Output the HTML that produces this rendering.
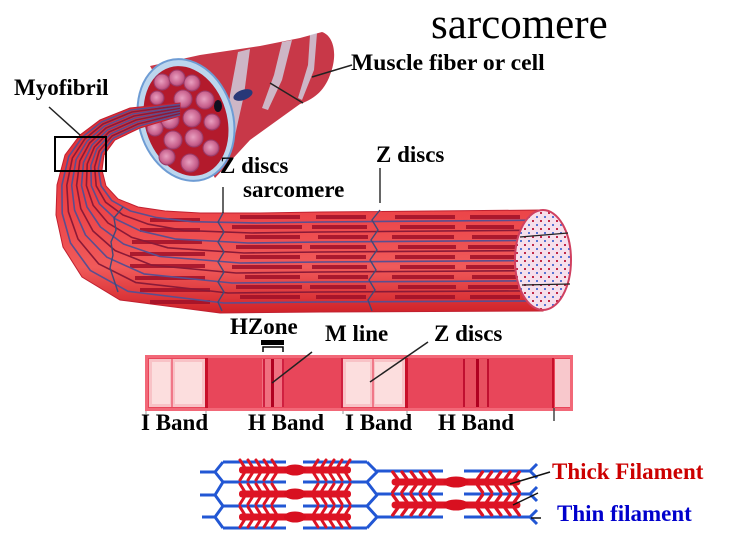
<!DOCTYPE html>
<html><head><meta charset="utf-8"><style>
html,body{margin:0;padding:0;background:#fff;}
svg{display:block;}
text{font-family:"Liberation Serif",serif;}
.lb{font-weight:bold;font-size:23px;fill:#000;}
</style></head><body>
<svg width="742" height="557" viewBox="0 0 742 557" xmlns="http://www.w3.org/2000/svg">
<defs>
<linearGradient id="tubeG" gradientUnits="userSpaceOnUse" x1="0" y1="105" x2="0" y2="313">
<stop offset="0" stop-color="#de2a30"/>
<stop offset="0.5" stop-color="#ec4448"/>
<stop offset="0.78" stop-color="#f05a5a"/>
<stop offset="1" stop-color="#d02228"/>
</linearGradient>
<radialGradient id="fibG" cx="0.45" cy="0.45" r="0.6">
<stop offset="0" stop-color="#e8a0c0"/>
<stop offset="0.7" stop-color="#c8608c"/>
<stop offset="1" stop-color="#a04070"/>
</radialGradient>
<pattern id="dots" width="8" height="8" patternUnits="userSpaceOnUse">
<rect width="8" height="8" fill="#f6e0ec"/>
<rect x="0" y="0" width="2" height="2" fill="#5874d4"/>
<rect x="4" y="4" width="2" height="2" fill="#c02848"/>
</pattern>
<g id="thick">
<rect x="-56" y="-3.5" width="112" height="7" rx="3" fill="#dd1424"/>
<ellipse cx="0" cy="0" rx="11" ry="5.5" fill="#d81020"/>
<path d="M-50,-2 l-5,-8 M-50,2 l-5,8 M-42,-2 l-5,-8 M-42,2 l-5,8 M-34,-2 l-5,-8 M-34,2 l-5,8 M-26,-2 l-5,-8 M-26,2 l-5,8 M-18,-2 l-5,-8 M-18,2 l-5,8 M50,-2 l5,-8 M50,2 l5,8 M42,-2 l5,-8 M42,2 l5,8 M34,-2 l5,-8 M34,2 l5,8 M26,-2 l5,-8 M26,2 l5,8 M18,-2 l5,-8 M18,2 l5,8" stroke="#dd1424" stroke-width="3" stroke-linecap="round" fill="none"/>
</g>
</defs>

<!-- ============ muscle fiber bundle (cone) ============ -->
<path d="M150,66 L200,55 L260,46 L300,38 L322,32 C334,36 338,55 330,75 C324,92 312,100 300,104 L250,140 L215,178 Z" fill="#c83848"/>
<g fill="#cfe0f0" opacity="0.75">
<polygon points="238,52 250,49 244,95 234,140 224,148 230,95"/>
<polygon points="282,42 292,40 282,80 268,110 262,108 274,75"/>
<polygon points="310,35 317,33 314,70 302,100 298,98 308,65"/>
</g>
<ellipse cx="243" cy="95" rx="10" ry="5" fill="#283878" transform="rotate(-20 243 95)"/>
<!-- cross-section -->
<ellipse cx="186" cy="120" rx="47" ry="62" transform="rotate(-17 186 120)" fill="#bcd6ee" stroke="#6e9cd4" stroke-width="2"/>
<ellipse cx="186" cy="121" rx="41" ry="56" transform="rotate(-17 186 121)" fill="#b31a2c"/>
<g fill="url(#fibG)" stroke="#9a3a68" stroke-width="1">
<circle cx="162" cy="82" r="8"/>
<circle cx="177" cy="78" r="8"/>
<circle cx="192" cy="83" r="8"/>
<circle cx="183" cy="99" r="9"/>
<circle cx="205" cy="100" r="9"/>
<circle cx="157" cy="98" r="7"/>
<circle cx="170" cy="120" r="9"/>
<circle cx="192" cy="118" r="9"/>
<circle cx="212" cy="122" r="8"/>
<circle cx="155" cy="128" r="8"/>
<circle cx="173" cy="140" r="9"/>
<circle cx="194" cy="138" r="9"/>
<circle cx="211" cy="148" r="8"/>
<circle cx="167" cy="157" r="8"/>
<circle cx="190" cy="163" r="9"/>
</g>
<ellipse cx="218" cy="106" rx="4" ry="6" fill="#101020"/>

<!-- ============ myofibril tube ============ -->
<path d="M180,103 L130,108 L100,120 L80,135 L65,155 L57,185 L56,215 L63,247 L82,277 L120,300 L220,313 L320,312 L543,311 L543,210 L320,212 L260,213 L200,213 L165,211 L138,207 L118,199 L106,186 L102,170 L104,155 L115,140 L140,128 L180,116 Z" fill="url(#tubeG)" stroke="#c02030" stroke-width="1"/>
<!-- dark red dashes in rows -->
<g fill="#a01028" opacity="0.85">
<rect x="240" y="215" width="60" height="4"/><rect x="316" y="215" width="50" height="4"/><rect x="395" y="215" width="60" height="4"/><rect x="470" y="215" width="50" height="4"/>
<rect x="232" y="225" width="70" height="4"/><rect x="312" y="225" width="55" height="4"/><rect x="400" y="225" width="55" height="4"/><rect x="466" y="225" width="48" height="4"/>
<rect x="245" y="235" width="55" height="4"/><rect x="318" y="235" width="50" height="4"/><rect x="392" y="235" width="62" height="4"/><rect x="472" y="235" width="46" height="4"/>
<rect x="236" y="245" width="66" height="4"/><rect x="310" y="245" width="56" height="4"/><rect x="398" y="245" width="58" height="4"/><rect x="468" y="245" width="50" height="4"/>
<rect x="240" y="255" width="60" height="4"/><rect x="316" y="255" width="50" height="4"/><rect x="395" y="255" width="60" height="4"/><rect x="470" y="255" width="50" height="4"/>
<rect x="232" y="265" width="70" height="4"/><rect x="312" y="265" width="55" height="4"/><rect x="400" y="265" width="55" height="4"/><rect x="466" y="265" width="48" height="4"/>
<rect x="245" y="275" width="55" height="4"/><rect x="318" y="275" width="50" height="4"/><rect x="392" y="275" width="62" height="4"/><rect x="472" y="275" width="46" height="4"/>
<rect x="236" y="285" width="66" height="4"/><rect x="310" y="285" width="56" height="4"/><rect x="398" y="285" width="58" height="4"/><rect x="468" y="285" width="50" height="4"/>
<rect x="240" y="295" width="60" height="4"/><rect x="316" y="295" width="50" height="4"/><rect x="395" y="295" width="60" height="4"/><rect x="470" y="295" width="50" height="4"/>
<rect x="150" y="300" width="60" height="4"/><rect x="140" y="288" width="70" height="4"/><rect x="135" y="276" width="70" height="4"/><rect x="130" y="264" width="75" height="4"/>
<rect x="130" y="252" width="75" height="4"/><rect x="132" y="240" width="70" height="4"/><rect x="140" y="228" width="60" height="4"/><rect x="150" y="218" width="50" height="4"/>
</g>
<!-- fibril stripes -->
<g fill="none" stroke-width="1.6" stroke-linejoin="round">
<polyline stroke="#5a4e90" points="180,114.7 139,126 113.5,138 101.6,153 98.3,168.5 101.1,185.9 111.8,200.6 130.5,211 156.7,217.6 192,221.7 256,223 320,222 543,220.1"/>
<polyline stroke="#8a1a38" points="180,113.4 138,124 112,136 99.2,151 94.6,167 96.2,185.8 105.6,202.2 123,215 148.4,224.2 184,230.4 252,233 320,232 543,230.2"/>
<polyline stroke="#5a4e90" points="180,112.1 137,122 110.5,134 96.8,149 90.9,165.5 91.3,185.7 99.4,203.8 115.5,219 140.1,230.8 176,239.1 248,243 320,242 543,240.3"/>
<polyline stroke="#8a1a38" points="180,110.8 136,120 109,132 94.4,147 87.2,164 86.4,185.6 93.2,205.4 108,223 131.8,237.4 168,247.8 244,253 320,252 543,250.4"/>
<polyline stroke="#5a4e90" points="180,109.5 135,118 107.5,130 92,145 83.5,162.5 81.5,185.5 87,207 100.5,227 123.5,244 160,256.5 240,263 320,262 543,260.5"/>
<polyline stroke="#8a1a38" points="180,108.2 134,116 106,128 89.6,143 79.8,161 76.6,185.4 80.8,208.6 93,231 115.2,250.6 152,265.2 236,273 320,272 543,270.6"/>
<polyline stroke="#5a4e90" points="180,106.9 133,114 104.5,126 87.2,141 76.1,159.5 71.7,185.3 74.6,210.2 85.5,235 106.9,257.2 144,273.9 232,283 320,282 543,280.7"/>
<polyline stroke="#8a1a38" points="180,105.6 132,112 103,124 84.8,139 72.4,158 66.8,185.2 68.4,211.8 78,239 98.6,263.8 136,282.6 228,293 320,292 543,290.8"/>
<polyline stroke="#5a4e90" points="180,104.3 131,110 101.5,122 82.4,137 68.7,156.5 61.9,185.1 62.2,213.4 70.5,243 90.3,270.4 128,291.3 224,303 320,302 543,300.9"/>
</g>
<!-- Z disc zigzags -->
<g fill="none" stroke="#3e4a7a" stroke-width="1.4">
<polyline points="223,213 218,222 224,232 218,242 224,252 218,262 224,272 218,282 224,292 218,302 222,311"/>
<polyline points="380,210 372,220 378,230 371,240 377,250 370,260 376,270 369,280 375,290 368,300 372,311"/>
<polyline points="123,207 114,218 116,230 111,242 113,255 110,268 114,280 118,292"/>
</g>
<!-- end cap -->
<ellipse cx="543" cy="260" rx="28" ry="50" fill="url(#dots)" stroke="#d04060" stroke-width="2"/>
<g stroke="#222" stroke-width="1.2">
<line x1="520" y1="237" x2="568" y2="233"/>
<line x1="522" y1="285" x2="570" y2="284"/>
</g>

<!-- pointers top -->
<g stroke="#222" stroke-width="1.5">
<line x1="49" y1="107" x2="80" y2="135"/>
<line x1="352" y1="65" x2="312" y2="77"/>
<line x1="270" y1="83" x2="303" y2="103"/>
</g>
<rect x="55" y="137" width="51" height="34" fill="none" stroke="#000" stroke-width="2"/>
<g stroke="#000" stroke-width="1.2">
<line x1="223" y1="187" x2="223" y2="213"/>
<line x1="380" y1="168" x2="380" y2="203"/>
</g>

<!-- ============ sarcomere band ============ -->
<rect x="145" y="355" width="428" height="56" fill="#f26878"/>
<rect x="148" y="358" width="422" height="50" fill="#e8465a"/>
<rect x="149" y="359" width="56" height="48" fill="#f8c2c6"/>
<rect x="152" y="362" width="18" height="42" fill="#fcdede"/>
<rect x="175" y="362" width="27" height="42" fill="#fcdede"/>
<rect x="171" y="359" width="2" height="48" fill="#f07888"/>
<rect x="205" y="358" width="3" height="50" fill="#c8102a"/>
<rect x="262" y="359" width="22" height="48" fill="#f07080"/>
<rect x="263" y="359" width="2" height="48" fill="#d02040"/>
<rect x="271" y="359" width="3" height="48" fill="#b00020"/>
<rect x="282" y="359" width="2" height="48" fill="#d02040"/>
<rect x="341" y="358" width="2" height="50" fill="#d02040"/>
<rect x="343" y="359" width="62" height="48" fill="#f8c2c6"/>
<rect x="346" y="362" width="24" height="42" fill="#fcdede"/>
<rect x="375" y="362" width="27" height="42" fill="#fcdede"/>
<rect x="372" y="359" width="2" height="48" fill="#f07888"/>
<rect x="405" y="358" width="3" height="50" fill="#c8102a"/>
<rect x="463" y="359" width="26" height="48" fill="#e85060"/>
<rect x="463" y="359" width="2" height="48" fill="#c01030"/>
<rect x="476" y="359" width="3" height="48" fill="#b00020"/>
<rect x="487" y="359" width="2" height="48" fill="#c01030"/>
<rect x="552" y="358" width="2" height="50" fill="#c8102a"/>
<rect x="555" y="359" width="15" height="48" fill="#f8c8cc"/>
<g stroke="#999" stroke-width="1">
<line x1="146" y1="411" x2="146" y2="414"/>
<line x1="206" y1="411" x2="206" y2="414"/>
<line x1="343" y1="411" x2="343" y2="414"/>
<line x1="407" y1="411" x2="407" y2="414"/>
</g>
<line x1="554" y1="408" x2="554" y2="421" stroke="#444" stroke-width="1.5"/>
<!-- HZone bracket -->
<rect x="261" y="340" width="23" height="5" fill="#000"/>
<path d="M263,352 L263,347 L283,347 L283,352" fill="none" stroke="#000" stroke-width="1.5"/>
<g stroke="#222" stroke-width="1.5">
<line x1="312" y1="352" x2="272" y2="383"/>
<line x1="428" y1="342" x2="370" y2="382"/>
</g>

<!-- ============ filaments ============ -->
<g stroke="#2257d4" stroke-width="3" fill="none" stroke-linejoin="round">
<line x1="223" y1="462" x2="286" y2="462"/><line x1="303" y1="462" x2="367" y2="462"/>
<line x1="223" y1="482" x2="286" y2="482"/><line x1="303" y1="482" x2="367" y2="482"/>
<line x1="223" y1="506" x2="286" y2="506"/><line x1="303" y1="506" x2="367" y2="506"/>
<line x1="223" y1="528" x2="286" y2="528"/><line x1="303" y1="528" x2="367" y2="528"/>
<polyline points="223,462 215,472 223,482 215,495 223,506 215,517 223,528"/>
<line x1="200" y1="472" x2="215" y2="472"/><line x1="200" y1="495" x2="215" y2="495"/><line x1="202" y1="517" x2="215" y2="517"/>
<polyline points="367,462 377,472 367,482 377,495 367,506 377,517 367,528"/>
<line x1="377" y1="471" x2="443" y2="471"/><line x1="464" y1="471" x2="530" y2="471"/>
<line x1="377" y1="494" x2="443" y2="494"/><line x1="464" y1="494" x2="530" y2="494"/>
<line x1="377" y1="517" x2="443" y2="517"/><line x1="464" y1="517" x2="530" y2="517"/>
<path d="M530,471 L537,464 M530,471 L537,478 M530,494 L537,487 M530,494 L537,501 M530,517 L537,510 M530,517 L537,524"/>
</g>
<use href="#thick" transform="translate(295,470)"/>
<use href="#thick" transform="translate(295,494)"/>
<use href="#thick" transform="translate(295,517)"/>
<use href="#thick" transform="translate(456,482) scale(1.15,1)"/>
<use href="#thick" transform="translate(456,505) scale(1.15,1)"/>
<g stroke="#111" stroke-width="1.5">
<line x1="550" y1="472" x2="510" y2="484"/>
<line x1="538" y1="493" x2="513" y2="505"/>
<line x1="541" y1="518" x2="531" y2="518"/>
</g>

<!-- ============ labels ============ -->
<text x="431" y="38" font-size="43" fill="#000">sarcomere</text>
<text class="lb" x="351" y="70" style="font-size:23.6px">Muscle fiber or cell</text>
<text class="lb" x="14" y="95">Myofibril</text>
<text class="lb" x="220" y="173">Z discs</text>
<text class="lb" x="243" y="197">sarcomere</text>
<text class="lb" x="376" y="162">Z discs</text>
<text class="lb" x="230" y="334">HZone</text>
<text class="lb" x="325" y="341">M line</text>
<text class="lb" x="434" y="341">Z discs</text>
<text class="lb" x="141" y="430">I Band</text>
<text class="lb" x="248" y="430">H Band</text>
<text class="lb" x="345" y="430">I Band</text>
<text class="lb" x="438" y="430">H Band</text>
<text class="lb" x="552" y="479" style="fill:#cc0000">Thick Filament</text>
<text class="lb" x="557" y="521" style="fill:#0000cc">Thin filament</text>
</svg>
</body></html>
